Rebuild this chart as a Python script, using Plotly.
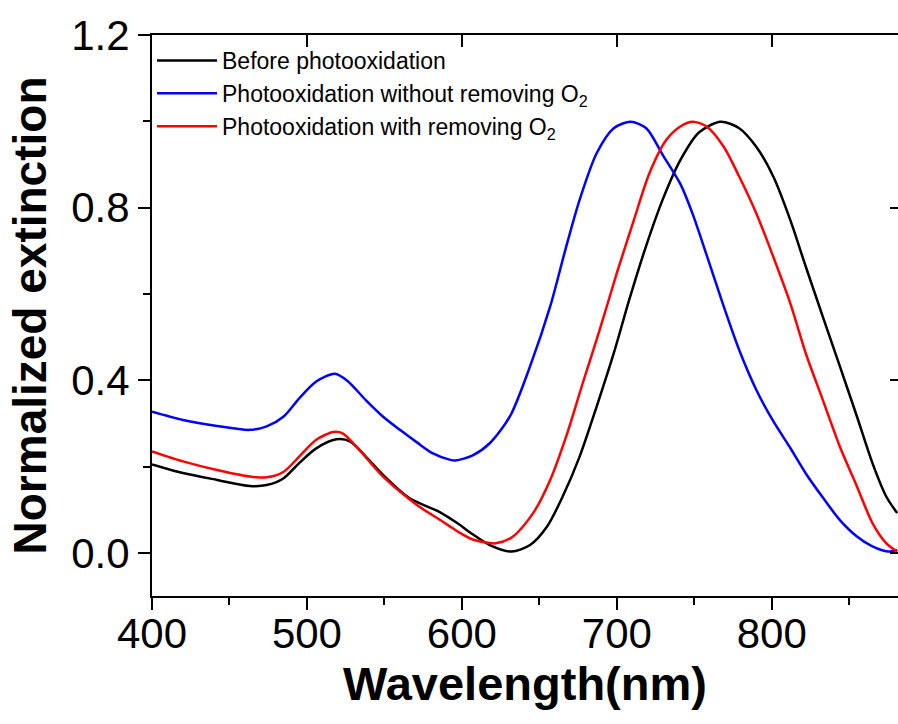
import plotly.graph_objects as go

# ---- data ----
black_wl = [400, 420, 442, 463, 474, 485, 495, 506, 519, 528, 538, 549, 566, 586, 597, 607, 618, 632,
            644, 655, 665, 676, 687, 698, 708, 719, 730, 741, 753, 767, 779, 790, 801, 812, 822, 833,
            844, 855, 865, 874, 881]
black_val = [0.205, 0.185, 0.169, 0.155, 0.157, 0.173, 0.208, 0.242, 0.263, 0.258, 0.223, 0.181, 0.127,
             0.094, 0.069, 0.043, 0.018, 0.003, 0.018, 0.061, 0.130, 0.223, 0.339, 0.462, 0.586, 0.712,
             0.822, 0.910, 0.974, 0.999, 0.984, 0.941, 0.872, 0.771, 0.663, 0.547, 0.432, 0.316, 0.208,
             0.130, 0.092]

blue_wl = [400, 420, 442, 463, 474, 485, 495, 506, 518, 526, 538, 549, 560, 571, 581, 592, 596, 607,
           618, 631, 644, 657, 667, 676, 687, 698, 709, 719, 730, 741, 749, 758, 769, 779, 790, 801,
           812, 822, 833, 844, 855, 865, 875, 881]
blue_val = [0.327, 0.308, 0.294, 0.285, 0.293, 0.316, 0.358, 0.397, 0.415, 0.399, 0.354, 0.316, 0.285,
            0.256, 0.231, 0.216, 0.214, 0.226, 0.254, 0.316, 0.432, 0.571, 0.705, 0.818, 0.926, 0.984,
            0.999, 0.984, 0.920, 0.855, 0.785, 0.690, 0.571, 0.470, 0.378, 0.305, 0.243, 0.184, 0.128,
            0.076, 0.038, 0.015, 0.003, 0.007]

red_wl = [400, 420, 442, 463, 474, 485, 495, 506, 517, 523, 532, 549, 571, 586, 592, 597, 607, 622,
          633, 646, 657, 668, 678, 689, 700, 711, 721, 732, 741, 749, 758, 769, 779, 790, 801, 812,
          822, 833, 844, 855, 865, 874, 881]
red_val = [0.235, 0.212, 0.192, 0.177, 0.175, 0.188, 0.223, 0.262, 0.280, 0.277, 0.246, 0.177, 0.111,
           0.076, 0.062, 0.050, 0.031, 0.022, 0.038, 0.092, 0.169, 0.277, 0.393, 0.517, 0.648, 0.771,
           0.879, 0.957, 0.988, 0.999, 0.988, 0.941, 0.872, 0.787, 0.686, 0.578, 0.462, 0.354, 0.246,
           0.154, 0.069, 0.022, 0.003]

series_names = ["Before photooxidation",
                "Photooxidation without removing O<sub>2</sub>",
                "Photooxidation with removing O<sub>2</sub>"]
series_colors = ["#000000", "#0000FF", "#FF0000"]

x_range = [400, 881.5]
y_range = [-0.1, 1.2]
x_title = "Wavelength(nm)"
y_title = "Normalized extinction"

FONT = "Arial, 'Liberation Sans', sans-serif"

fig = go.Figure()
for wl, val, name, col in zip([black_wl, blue_wl, red_wl], [black_val, blue_val, red_val],
                              series_names, series_colors):
    fig.add_trace(go.Scatter(x=wl, y=val, mode="lines", name=name,
                             line=dict(color=col, width=2.5, shape="spline", smoothing=0.8)))

# invisible helper trace so the mirrored (top / right) axes draw their inward ticks
fig.add_trace(go.Scatter(x=black_wl, y=black_val, xaxis="x2", yaxis="y2", mode="lines",
                         line=dict(color="rgba(0,0,0,0)"), showlegend=False, hoverinfo="skip"))

axis_common = dict(showgrid=False, zeroline=False, linecolor="black", linewidth=2,
                   tickcolor="black", tickwidth=2,
                   tickfont=dict(family=FONT, size=42, color="black"))

fig.update_layout(
    width=898, height=724,
    margin=dict(l=152, r=0, t=35, b=128),
    paper_bgcolor="white", plot_bgcolor="white",
    font=dict(family=FONT, color="black"),
    showlegend=True,
    legend=dict(x=0, y=0.993, xanchor="left", yanchor="top", bgcolor="rgba(0,0,0,0)",
                font=dict(family=FONT, size=23, color="black"), itemwidth=60,
                tracegroupgap=0),
    xaxis=dict(range=x_range, showline=True, ticks="outside", ticklen=12, dtick=100, tick0=400,
               ticklabelstandoff=-12,
               minor=dict(ticks="outside", ticklen=7, dtick=50, tickwidth=2, tickcolor="black"),
               title=dict(text="<b>" + x_title + "</b>", font=dict(family=FONT, size=47, color="black"),
                          standoff=8),
               **axis_common),
    yaxis=dict(range=y_range, showline=True, ticks="outside", ticklen=12, dtick=0.4, tick0=0,
               tickformat=".1f",
               minor=dict(ticks="outside", ticklen=7, dtick=0.2, tickwidth=2, tickcolor="black"),
               title=dict(text="<b>" + y_title + "</b>", font=dict(family=FONT, size=46, color="black"),
                          standoff=10),
               **axis_common),
    xaxis2=dict(range=x_range, overlaying="x", side="top", anchor="y2", showline=True,
                ticks="inside", ticklen=12, dtick=100, tick0=400, showticklabels=False,
                showgrid=False, zeroline=False, linecolor="black", linewidth=2,
                tickcolor="black", tickwidth=2),
    yaxis2=dict(range=y_range, overlaying="y", side="right", anchor="x2", showline=False,
                ticks="inside", ticklen=8, dtick=0.4, tick0=0, showticklabels=False,
                showgrid=False, zeroline=False, tickcolor="black", tickwidth=2),
)

fig.write_html("out.html")
